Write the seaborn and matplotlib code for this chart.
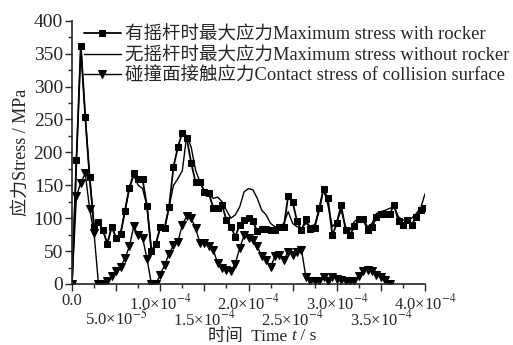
import numpy as np
import pandas as pd
import matplotlib
matplotlib.use("Agg")
import matplotlib.pyplot as plt
from matplotlib.ticker import MultipleLocator
from matplotlib.offsetbox import TextArea, HPacker, AnchoredOffsetbox
import seaborn as sns

# sampling step of the simulation output (s)
dt = 5e-6

stress_rocker = [0, 188, 362, 254, 162, 87, 94, 82, 61, 87,
                 70, 76, 111, 146, 168, 160, 159, 118, 50, 61,
                 86, 85, 117, 178, 208, 230, 222, 184, 155, 155,
                 140, 138, 116, 115, 120, 97, 87, 72, 90, 97,
                 100, 95, 80, 83, 83, 82, 82, 86, 87, 134,
                 125, 95, 82, 98, 83, 85, 115, 144, 130, 74,
                 92, 120, 82, 74, 88, 98, 98, 82, 86, 102,
                 106, 106, 107, 120, 95, 90, 97, 90, 102, 112,
                 116]

stress_no_rocker = [0, 188, 362, 254, 162, 87, 94, 82, 61, 87,
                    70, 76, 111, 146, 165, 150, 145, 118, 50, 61,
                    86, 85, 117, 150, 160, 172, 226, 208, 173, 155,
                    142, 138, 130, 132, 125, 112, 100, 105, 117, 140,
                    145, 143, 130, 112, 105, 92, 87, 87, 92, 110,
                    92, 87, 85, 92, 88, 90, 110, 144, 120, 87,
                    95, 112, 87, 82, 95, 100, 98, 87, 92, 107,
                    110, 112, 115, 117, 102, 97, 97, 100, 107, 115,
                    137]

contact_stress = [0, 133, 154, 168, 114, 77, 0, 0, 4, 12,
                  19, 26, 39, 57, 88, 74, 70, 38, 0, 0,
                  14, 29, 46, 59, 64, 90, 103, 100, 85, 62,
                  62, 57, 52, 32, 24, 21, 19, 31, 54, 74,
                  70, 67, 57, 42, 37, 26, 42, 44, 36, 49,
                  44, 49, 52, 11, 5, 4, 4, 11, 5, 11,
                  7, 6, 4, 4, 5, 12, 19, 22, 19, 14,
                  10, 6, 0]

labels = ["有摇杆时最大应力Maximum stress with rocker",
          "无摇杆时最大应力Maximum stress without rocker",
          "碰撞面接触应力Contact stress of collision surface"]

xtick_vals = [0, 5e-5, 1e-4, 1.5e-4, 2e-4, 2.5e-4, 3e-4, 3.5e-4, 4e-4]
xtick_labels = ["0.0", "5.0×10$^{-5}$", "1.0×10$^{-4}$",
                "1.5×10$^{-4}$", "2.0×10$^{-4}$",
                "2.5×10$^{-4}$", "3.0×10$^{-4}$",
                "3.5×10$^{-4}$", "4.0×10$^{-4}$"]

sns.set_style("ticks")
plt.rcParams["font.family"] = ["Liberation Serif", "Noto Sans CJK SC"]
plt.rcParams["mathtext.fontset"] = "stix"
plt.rcParams["xtick.direction"] = "out"
plt.rcParams["ytick.direction"] = "out"

t1 = np.arange(len(stress_rocker)) * dt
t2 = np.arange(len(stress_no_rocker)) * dt
t3 = np.arange(len(contact_stress)) * dt

fig, ax = plt.subplots(figsize=(5.13, 3.45), dpi=100)
fig.subplots_adjust(left=72/513, right=425/513, bottom=1-284/345, top=1-20.7/345)

sns.lineplot(x=t1, y=stress_rocker, ax=ax, color="k", lw=1.3, marker="s",
             markersize=5, markeredgecolor="k", label=labels[0])
sns.lineplot(x=t2, y=stress_no_rocker, ax=ax, color="k", lw=1.0, label=labels[1])
sns.lineplot(x=t3, y=contact_stress, ax=ax, color="k", lw=1.0, marker="v",
             markersize=6, markeredgecolor="k", label=labels[2])

ax.set_xlim(0, 4e-4)
ax.set_ylim(0, 400)
ax.yaxis.set_major_locator(MultipleLocator(50))
ax.yaxis.set_minor_locator(MultipleLocator(25))
ax.set_xticks(xtick_vals)
ax.set_xticklabels(xtick_labels)
ax.xaxis.set_minor_locator(MultipleLocator(2.5e-5))
ax.tick_params(which="major", length=5, width=1, pad=1.5)
ax.tick_params(axis="y", labelsize=14)
ax.tick_params(axis="x", labelsize=12)
ax.tick_params(which="minor", length=3, width=1)
# stagger the x labels in two rows
for i, tick in enumerate(ax.xaxis.get_major_ticks()):
    if i % 2 == 1:
        tick.set_pad(13)

sns.despine(ax=ax)
for sp in ["left", "bottom"]:
    ax.spines[sp].set_linewidth(1.2)

ax.set_ylabel("应力Stress / MPa", fontsize=13, labelpad=3)

# x label: Chinese + upright text with an italic t
xl_parts = [TextArea("时间  Time ", textprops=dict(fontsize=12.5)),
            TextArea("t", textprops=dict(fontsize=12.5, style="italic")),
            TextArea(" / s", textprops=dict(fontsize=12.5))]
xl_box = HPacker(children=xl_parts, align="baseline", pad=0, sep=0)
xl_anchor = AnchoredOffsetbox(loc="lower center", child=xl_box, pad=0, borderpad=0,
                              frameon=False, bbox_to_anchor=(262/513, 0.5/345),
                              bbox_transform=fig.transFigure)
fig.add_artist(xl_anchor)

ax.legend(loc="upper left", bbox_to_anchor=(84/513, 1-26/345),
          bbox_transform=fig.transFigure, frameon=False, fontsize=13.3,
          handlelength=2.0, handletextpad=0.2, labelspacing=0.18,
          borderaxespad=0, borderpad=0)

fig.savefig("out.png", dpi=100)
